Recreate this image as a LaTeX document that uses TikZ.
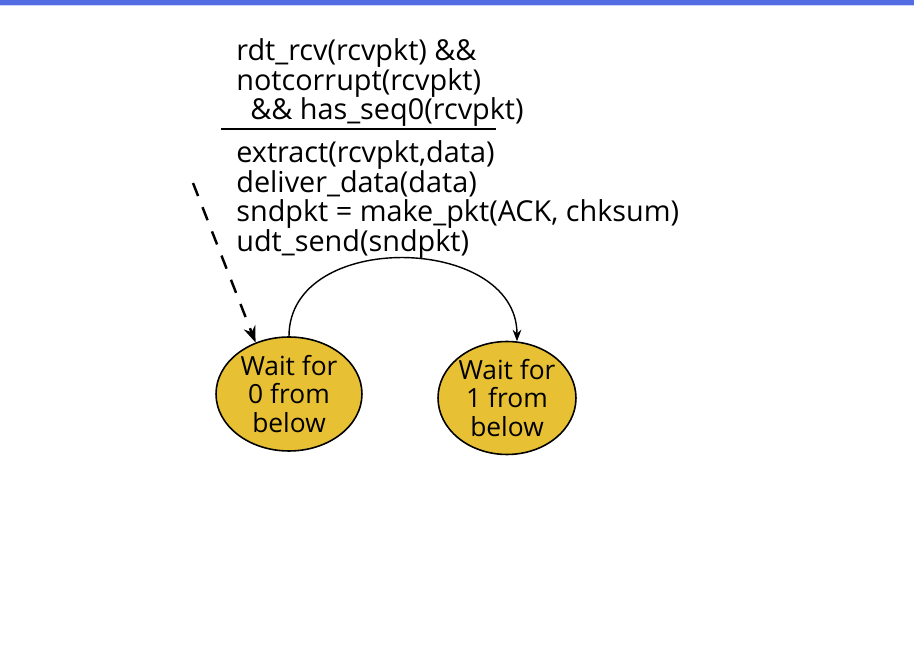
\documentclass[tikz,border=0pt]{standalone}
\usepackage{fontspec}
\setmainfont{Open Sans}
\usetikzlibrary{shapes.geometric,arrows.meta}
\definecolor{statefill}{RGB}{232,192,52}
\definecolor{topbar}{RGB}{82,108,226}
\tikzset{
  state/.style={ellipse, draw, line width=0.9pt, fill=statefill, inner sep=0pt,
    align=center, font=\fontsize{15}{16}\selectfont},
  fsmtext/.style={anchor=north west, inner sep=0pt, align=left,
    font=\fontsize{16.4}{17}\selectfont}
}
\begin{document}
\begin{tikzpicture}[x=0.02cm, y=-0.02cm, >=Stealth]
  \useasboundingbox (0,0) rectangle (914,668);
  % Top bar
  \fill[topbar] (0,0) rectangle (914,5);
  \fill[topbar!30] (0,5) rectangle (914,6.5);

  % States
  \node[state, minimum width=2.92cm, minimum height=2.28cm] (wait0) at (289,394) {Wait for\\0 from\\below};
  \node[state, minimum width=2.76cm, minimum height=2.26cm] (wait1) at (507,398) {Wait for\\1 from\\below};

  % Event and actions
  \node[fsmtext] (event) at (236,38) {rdt\_rcv(rcvpkt) \&\&\\notcorrupt(rcvpkt)\\\hspace*{0.28cm}\&\& has\_seq0(rcvpkt)};
  \node[fsmtext] (action) at (236,140) {extract(rcvpkt,data)\\deliver\_data(data)\\sndpkt = make\_pkt(ACK, chksum)\\udt\_send(sndpkt)};
  \draw[line width=1.7pt] (221,129) -- (496,129);

  % Initial arrow
  \coordinate (init) at (193,183);
  \draw[->, dashed, line width=1.4pt, dash pattern=on 0.28cm off 0.24cm] (init) -- (wait0.123);

  % Transition
  \draw[->, line width=0.8pt] (wait0.north) to[out=90, in=90, looseness=1.2] (wait1.80);
\end{tikzpicture}
\end{document}
